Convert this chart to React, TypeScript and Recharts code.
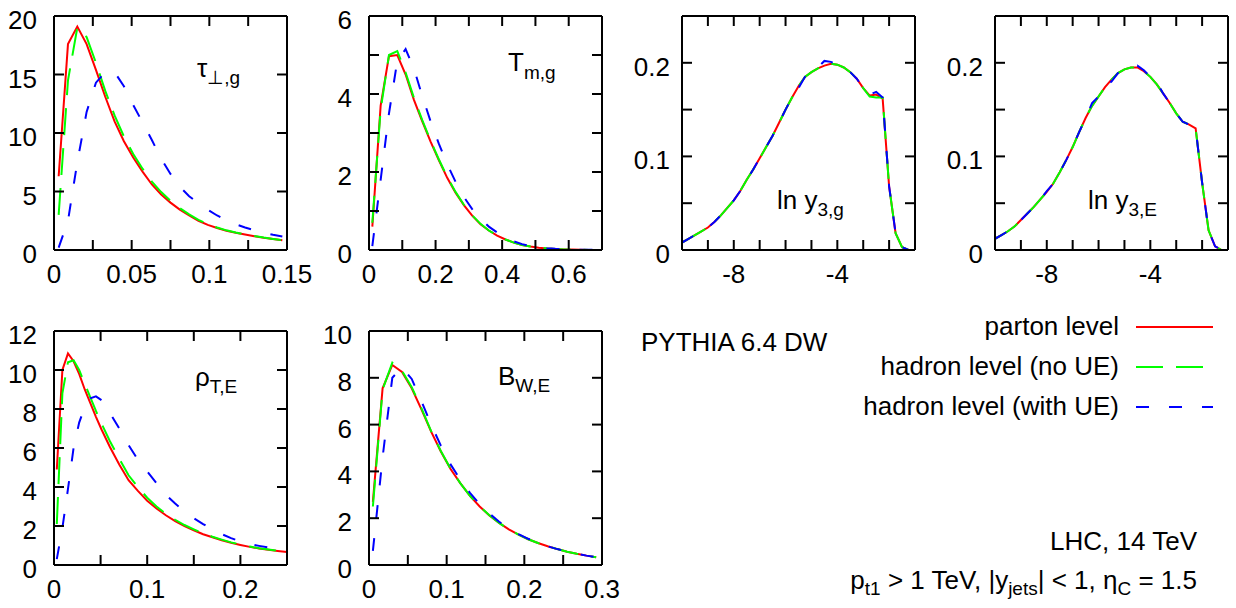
import { LineChart, Line, XAxis, YAxis } from 'recharts'

const FONT = '"Liberation Sans", Arial, Helvetica, sans-serif'

// tau_perp,g
const tauX = [0.003, 0.009, 0.015, 0.021, 0.027, 0.033, 0.039, 0.045, 0.051, 0.057, 0.063, 0.069, 0.075, 0.081, 0.087, 0.093, 0.099, 0.105, 0.111, 0.117, 0.123, 0.129, 0.135, 0.141, 0.147]
const tauParton = [6.3, 17.6, 19.1, 17.6, 15.4, 13.1, 11.0, 9.3, 7.9, 6.7, 5.6, 4.75, 4.05, 3.45, 2.95, 2.5, 2.15, 1.88, 1.65, 1.47, 1.32, 1.18, 1.05, 0.94, 0.84]
const tauNoUE = [3.0, 14.5, 19.0, 18.2, 16.0, 13.6, 11.5, 9.7, 8.2, 6.95, 5.85, 4.95, 4.2, 3.58, 3.05, 2.58, 2.2, 1.92, 1.68, 1.49, 1.33, 1.19, 1.06, 0.95, 0.85]
const tauWithUE = [0.2, 2.5, 7.5, 11.8, 14.3, 15.2, 15.2, 14.0, 12.4, 10.9, 9.4, 7.8, 6.5, 5.4, 4.6, 4.0, 3.45, 2.95, 2.55, 2.2, 1.92, 1.68, 1.48, 1.3, 1.15]

// T_m,g
const tmX = [0.01, 0.035, 0.06, 0.085, 0.11, 0.135, 0.16, 0.185, 0.21, 0.235, 0.26, 0.285, 0.31, 0.335, 0.36, 0.385, 0.41, 0.435, 0.46, 0.485, 0.51, 0.535, 0.56, 0.585, 0.61, 0.635, 0.66, 0.685]
const tmParton = [0.6, 3.7, 4.97, 5.0, 4.5, 3.85, 3.3, 2.78, 2.3, 1.85, 1.47, 1.15, 0.88, 0.66, 0.5, 0.37, 0.27, 0.19, 0.13, 0.09, 0.06, 0.04, 0.025, 0.015, 0.01, 0.005, 0.003, 0.002]
const tmNoUE = [0.7, 3.6, 5.0, 5.1, 4.55, 3.9, 3.33, 2.8, 2.32, 1.87, 1.49, 1.16, 0.89, 0.67, 0.5, 0.37, 0.27, 0.19, 0.13, 0.09, 0.06, 0.04, 0.025, 0.015, 0.01, 0.005, 0.003, 0.002]
const tmWithUE = [0.1, 1.8, 3.5, 4.85, 5.15, 4.65, 3.95, 3.3, 2.72, 2.2, 1.75, 1.36, 1.05, 0.8, 0.6, 0.45, 0.32, 0.22, 0.15, 0.1, 0.07, 0.045, 0.03, 0.02, 0.012, 0.008, 0.005, 0.003]

// ln y3 (shared x)
const lnX = [-10, -9.75, -9.5, -9.25, -9, -8.75, -8.5, -8.25, -8, -7.75, -7.5, -7.25, -7, -6.75, -6.5, -6.25, -6, -5.75, -5.5, -5.25, -5, -4.75, -4.5, -4.25, -4, -3.75, -3.5, -3.25, -3, -2.75, -2.5, -2.25, -2, -1.75, -1.5, -1.25, -1]
const y3gParton = [0.008, 0.012, 0.016, 0.02, 0.024, 0.03, 0.037, 0.045, 0.053, 0.063, 0.075, 0.086, 0.098, 0.11, 0.122, 0.136, 0.15, 0.163, 0.175, 0.185, 0.19, 0.194, 0.197, 0.199, 0.198, 0.195, 0.19, 0.183, 0.173, 0.165, 0.166, 0.162, 0.068, 0.018, 0.003, 0, 0]
const y3gNoUE = [0.008, 0.012, 0.016, 0.02, 0.024, 0.03, 0.037, 0.045, 0.053, 0.063, 0.075, 0.086, 0.098, 0.11, 0.122, 0.136, 0.15, 0.163, 0.175, 0.185, 0.19, 0.194, 0.197, 0.199, 0.198, 0.195, 0.19, 0.183, 0.173, 0.164, 0.163, 0.163, 0.068, 0.018, 0.003, 0, 0]
const y3gWithUE = [0.008, 0.012, 0.016, 0.02, 0.024, 0.03, 0.037, 0.045, 0.053, 0.063, 0.075, 0.086, 0.098, 0.11, 0.122, 0.136, 0.15, 0.163, 0.173, 0.185, 0.19, 0.195, 0.202, 0.201, 0.198, 0.195, 0.19, 0.183, 0.173, 0.166, 0.169, 0.163, 0.068, 0.018, 0.003, 0, 0]

const y3eParton = [0.012, 0.016, 0.02, 0.025, 0.032, 0.039, 0.046, 0.054, 0.062, 0.071, 0.083, 0.096, 0.11, 0.126, 0.141, 0.154, 0.164, 0.174, 0.182, 0.189, 0.193, 0.195, 0.195, 0.191, 0.185, 0.177, 0.167, 0.157, 0.146, 0.137, 0.134, 0.13, 0.072, 0.021, 0.004, 0, 0]
const y3eNoUE = [0.012, 0.016, 0.02, 0.025, 0.032, 0.039, 0.046, 0.054, 0.062, 0.071, 0.083, 0.096, 0.11, 0.126, 0.141, 0.154, 0.164, 0.174, 0.182, 0.189, 0.193, 0.195, 0.195, 0.191, 0.185, 0.177, 0.167, 0.157, 0.146, 0.137, 0.134, 0.13, 0.072, 0.021, 0.004, 0, 0]
const y3eWithUE = [0.012, 0.016, 0.02, 0.025, 0.032, 0.039, 0.046, 0.054, 0.063, 0.071, 0.083, 0.096, 0.11, 0.126, 0.141, 0.157, 0.164, 0.174, 0.18, 0.189, 0.193, 0.195, 0.197, 0.192, 0.185, 0.179, 0.167, 0.157, 0.146, 0.137, 0.134, 0.13, 0.072, 0.021, 0.004, 0, 0]

// rho_T,E
const rhoX = [0.003, 0.009, 0.015, 0.021, 0.027, 0.033, 0.039, 0.045, 0.051, 0.06, 0.07, 0.08, 0.09, 0.1, 0.11, 0.12, 0.13, 0.14, 0.15, 0.16, 0.17, 0.18, 0.19, 0.2, 0.21, 0.22, 0.23, 0.24, 0.25]
const rhoParton = [4.9, 10.0, 10.85, 10.45, 9.8, 9.0, 8.3, 7.6, 6.95, 6.05, 5.15, 4.35, 3.8, 3.3, 2.9, 2.55, 2.25, 2.0, 1.78, 1.58, 1.42, 1.27, 1.14, 1.03, 0.93, 0.85, 0.78, 0.72, 0.66]
const rhoNoUE = [2.1, 8.8, 10.4, 10.5, 10.0, 9.3, 8.6, 7.9, 7.25, 6.35, 5.45, 4.6, 4.0, 3.45, 3.0, 2.62, 2.32, 2.05, 1.83, 1.62, 1.45, 1.3, 1.16, 1.05, 0.95, 0.86, 0.79, 0.73, 0.67]
const rhoWithUE = [0.3, 1.9, 3.9, 6.0, 7.3, 8.1, 8.55, 8.65, 8.45, 7.8, 7.0, 6.15, 5.4, 4.8, 4.2, 3.6, 3.15, 2.75, 2.4, 2.1, 1.82, 1.58, 1.38, 1.2, 1.07, 0.98, 0.9, 0.83, 0.76]

// B_W,E
const bwX = [0.005, 0.0175, 0.03, 0.0425, 0.055, 0.0675, 0.08, 0.0925, 0.105, 0.1175, 0.13, 0.1425, 0.155, 0.1675, 0.18, 0.1925, 0.205, 0.2175, 0.23, 0.2425, 0.255, 0.2675, 0.28, 0.2925]
const bwParton = [2.7, 7.55, 8.55, 8.25, 7.55, 6.65, 5.7, 4.85, 4.1, 3.5, 2.95, 2.5, 2.12, 1.8, 1.52, 1.3, 1.1, 0.94, 0.8, 0.68, 0.57, 0.48, 0.4, 0.33]
const bwNoUE = [2.5, 7.5, 8.65, 8.3, 7.6, 6.7, 5.72, 4.87, 4.12, 3.5, 2.96, 2.51, 2.13, 1.8, 1.52, 1.3, 1.1, 0.94, 0.8, 0.68, 0.57, 0.48, 0.4, 0.33]
const bwWithUE = [0.6, 4.6, 8.0, 8.45, 7.95, 7.0, 6.0, 5.1, 4.3, 3.65, 3.08, 2.6, 2.2, 1.85, 1.56, 1.32, 1.12, 0.95, 0.8, 0.68, 0.57, 0.48, 0.4, 0.33]

const legendLabels = ['parton level', 'hadron level (no UE)', 'hadron level (with UE)']

const PAD_L = 70
const PAD_T = 20
const PAD_R = 40
const PAD_B = 50
const FRAME_W = 233
const FRAME_H = 234

const RED = '#ff0000'
const GREEN = '#00ff00'
const BLUE = '#0000ff'
const GREEN_DASH = '27 13'
const BLUE_DASH = '13 20'

type PanelProps = {
  left: number
  top: number
  xs: number[]
  parton: number[]
  noUE: number[]
  withUE: number[]
  xDomain: [number, number]
  xTicks: number[]
  xLabels: number[]
  yDomain: [number, number]
  yTicks: number[]
  yLabels: number[]
  yGap: number
}

const blank = () => <g />

function Panel(p: PanelProps) {
  const rows = p.xs.map((x, i) => ({ x, parton: p.parton[i], noUE: p.noUE[i], withUE: p.withUE[i] }))
  const frame = { stroke: '#000', strokeWidth: 2 }
  const bottomTick = (t: any) =>
    p.xLabels.includes(t.payload.value) ? (
      <text x={t.x} y={t.y} textAnchor="middle" fontSize={26} fontFamily={FONT} fill="#000">
        {t.payload.value}
      </text>
    ) : (
      <g />
    )
  const leftTick = (t: any) =>
    p.yLabels.includes(t.payload.value) ? (
      <text x={t.x} y={t.y + 13} textAnchor="end" fontSize={26} fontFamily={FONT} fill="#000">
        {t.payload.value}
      </text>
    ) : (
      <g />
    )
  return (
    <div style={{ position: 'absolute', left: p.left - PAD_L, top: p.top - PAD_T }}>
      <LineChart
        width={FRAME_W + PAD_L + PAD_R}
        height={FRAME_H + PAD_T + PAD_B}
        data={rows}
        margin={{ top: PAD_T - 1, right: PAD_R - 1, bottom: PAD_B - 1, left: PAD_L - 1 }}
      >
        <XAxis xAxisId="b" dataKey="x" type="number" domain={p.xDomain} ticks={p.xTicks} interval={0} height={1}
          allowDataOverflow tickSize={-10} tickMargin={43} axisLine={frame} tickLine={frame} tick={bottomTick} />
        <XAxis xAxisId="t" orientation="top" dataKey="x" type="number" domain={p.xDomain} ticks={p.xTicks} interval={0}
          height={1} allowDataOverflow tickSize={-10} axisLine={frame} tickLine={frame} tick={blank} />
        <YAxis yAxisId="l" type="number" domain={p.yDomain} ticks={p.yTicks} interval={0} width={1}
          allowDataOverflow tickSize={-10} tickMargin={10 + p.yGap} axisLine={frame} tickLine={frame} tick={leftTick} />
        <YAxis yAxisId="r" orientation="right" type="number" domain={p.yDomain} ticks={p.yTicks} interval={0} width={1}
          allowDataOverflow tickSize={-10} axisLine={frame} tickLine={frame} tick={blank} />
        <Line xAxisId="b" yAxisId="l" dataKey="parton" type="linear" stroke={RED} strokeWidth={2} dot={false} isAnimationActive={false} />
        <Line xAxisId="b" yAxisId="l" dataKey="noUE" type="linear" stroke={GREEN} strokeWidth={2} strokeDasharray={GREEN_DASH} dot={false} isAnimationActive={false} />
        <Line xAxisId="b" yAxisId="l" dataKey="withUE" type="linear" stroke={BLUE} strokeWidth={2} strokeDasharray={BLUE_DASH} dot={false} isAnimationActive={false} />
      </LineChart>
    </div>
  )
}

const SUB = 19

export default function App() {
  const lnTicks = [-10, -9, -8, -7, -6, -5, -4, -3, -2, -1]
  return (
    <div style={{ position: 'absolute', left: 0, top: 0, width: 1236, height: 608, background: '#fff', overflow: 'hidden' }}>
      <Panel left={54} top={16} xs={tauX} parton={tauParton} noUE={tauNoUE} withUE={tauWithUE}
        xDomain={[0, 0.15]} xTicks={[0, 0.025, 0.05, 0.075, 0.1, 0.125, 0.15]} xLabels={[0, 0.05, 0.1, 0.15]}
        yDomain={[0, 20]} yTicks={[0, 5, 10, 15, 20]} yLabels={[0, 5, 10, 15, 20]} yGap={17} />
      <Panel left={369} top={16} xs={tmX} parton={tmParton} noUE={tmNoUE} withUE={tmWithUE}
        xDomain={[0, 0.7]} xTicks={[0, 0.1, 0.2, 0.3, 0.4, 0.5, 0.6, 0.7]} xLabels={[0, 0.2, 0.4, 0.6]}
        yDomain={[0, 6]} yTicks={[0, 1, 2, 3, 4, 5, 6]} yLabels={[0, 2, 4, 6]} yGap={17} />
      <Panel left={682} top={16} xs={lnX} parton={y3gParton} noUE={y3gNoUE} withUE={y3gWithUE}
        xDomain={[-10, -1]} xTicks={lnTicks} xLabels={[-8, -4]}
        yDomain={[0, 0.25]} yTicks={[0, 0.05, 0.1, 0.15, 0.2, 0.25]} yLabels={[0, 0.1, 0.2]} yGap={12} />
      <Panel left={995} top={16} xs={lnX} parton={y3eParton} noUE={y3eNoUE} withUE={y3eWithUE}
        xDomain={[-10, -1]} xTicks={lnTicks} xLabels={[-8, -4]}
        yDomain={[0, 0.25]} yTicks={[0, 0.05, 0.1, 0.15, 0.2, 0.25]} yLabels={[0, 0.1, 0.2]} yGap={12} />
      <Panel left={54} top={331} xs={rhoX} parton={rhoParton} noUE={rhoNoUE} withUE={rhoWithUE}
        xDomain={[0, 0.25]} xTicks={[0, 0.05, 0.1, 0.15, 0.2, 0.25]} xLabels={[0, 0.1, 0.2]}
        yDomain={[0, 12]} yTicks={[0, 2, 4, 6, 8, 10, 12]} yLabels={[0, 2, 4, 6, 8, 10, 12]} yGap={17} />
      <Panel left={369} top={331} xs={bwX} parton={bwParton} noUE={bwNoUE} withUE={bwWithUE}
        xDomain={[0, 0.3]} xTicks={[0, 0.05, 0.1, 0.15, 0.2, 0.25, 0.3]} xLabels={[0, 0.1, 0.2, 0.3]}
        yDomain={[0, 10]} yTicks={[0, 2, 4, 6, 8, 10]} yLabels={[0, 2, 4, 6, 8, 10]} yGap={17} />

      <svg width={1236} height={608} style={{ position: 'absolute', left: 0, top: 0, pointerEvents: 'none' }}
        fontFamily={FONT} fontSize={26} fill="#000">
        <text x={197} y={77}>τ<tspan fontSize={SUB} dy={7}>⊥,g</tspan></text>
        <text x={508} y={71}>T<tspan fontSize={SUB} dy={8}>m,g</tspan></text>
        <text x={777} y={209}>ln y<tspan fontSize={SUB} dy={7}>3,g</tspan></text>
        <text x={1088} y={209}>ln y<tspan fontSize={SUB} dy={7}>3,E</tspan></text>
        <text x={195} y={386}>ρ<tspan fontSize={SUB} dy={7}>T,E</tspan></text>
        <text x={498} y={385}>B<tspan fontSize={SUB} dy={7}>W,E</tspan></text>

        <text x={641} y={351}>PYTHIA 6.4 DW</text>

        {legendLabels.map((s, i) => (
          <text key={s} x={1119} y={335 + i * 40} textAnchor="end">{s}</text>
        ))}
        <line x1={1136} x2={1213} y1={327} y2={327} stroke={RED} strokeWidth={2} />
        <line x1={1136} x2={1213} y1={367} y2={367} stroke={GREEN} strokeWidth={2} strokeDasharray={GREEN_DASH} />
        <line x1={1136} x2={1213} y1={407} y2={407} stroke={BLUE} strokeWidth={2} strokeDasharray={BLUE_DASH} />

        <text x={1197} y={550} textAnchor="end">LHC, 14 TeV</text>
        <text x={1197} y={589} textAnchor="end">
          p<tspan fontSize={SUB} dy={6}>t1</tspan>
          <tspan dy={-6}>{' > 1 TeV, |y'}</tspan>
          <tspan fontSize={SUB} dy={6}>jets</tspan>
          <tspan dy={-6}>{'| < 1, η'}</tspan>
          <tspan fontSize={SUB} dy={6}>C</tspan>
          <tspan dy={-6}>{' = 1.5'}</tspan>
        </text>
      </svg>
    </div>
  )
}
